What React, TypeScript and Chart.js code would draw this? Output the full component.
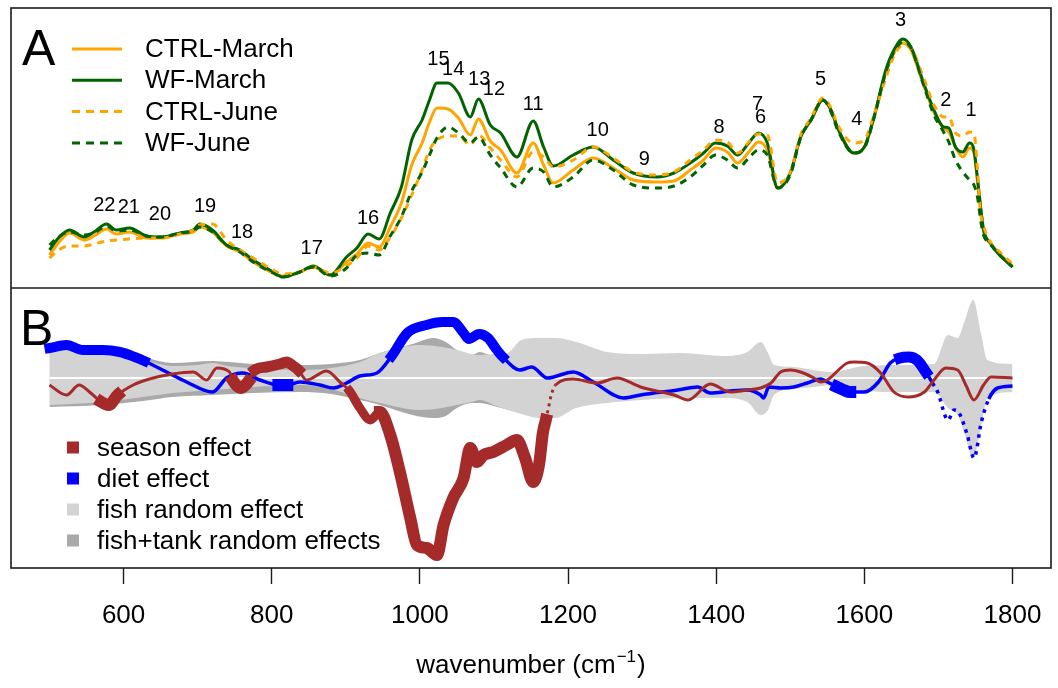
import React, { useEffect, useRef } from 'react';
import { Chart, registerables } from 'chart.js';

Chart.register(...registerables);

const FONT = "'Liberation Sans', Arial, Helvetica, sans-serif";
const ORANGE = '#FFA500';
const GREEN = '#006400';
const BROWN = '#A52A2A';
const BLUE = '#0000FF';
const LIGHT = '#D3D3D3';
const DARK = '#A9A9A9';

// ---------- x axis ----------
const X_MIN = 448;
const X_MAX = 1852;
const X_TICKS = [600, 800, 1000, 1200, 1400, 1600, 1800];

// ---------- Panel A: mean spectra ----------
const WN_A = [
  500, 512, 527, 547, 560, 577, 590, 608, 631, 650,
  676, 694, 703, 720, 739, 757, 775, 802, 815, 838,
  856, 879, 901, 915, 930, 945, 960, 975, 989, 1003,
  1013, 1023, 1038, 1052, 1068, 1079, 1095, 1109, 1131, 1153,
  1167, 1180, 1207, 1234, 1261, 1288, 1320, 1343, 1365, 1383,
  1399, 1415, 1429, 1444, 1457, 1469, 1483, 1500, 1514, 1528,
  1544, 1555, 1564, 1586, 1600, 1613, 1629, 1640, 1652, 1663,
  1680, 1694, 1707, 1714, 1723, 1733, 1742, 1748, 1753, 1757,
  1761, 1770, 1780, 1800,
];
const CTRL_MARCH = [
  0.33, 0.45, 0.55, 0.48, 0.52, 0.59, 0.54, 0.56, 0.50, 0.50,
  0.54, 0.56, 0.61, 0.56, 0.42, 0.36, 0.26, 0.15, 0.12, 0.16,
  0.21, 0.13, 0.26, 0.34, 0.45, 0.41, 0.61, 0.85, 1.23, 1.45,
  1.66, 1.80, 1.79, 1.70, 1.53, 1.69, 1.47, 1.38, 1.15, 1.45,
  1.23, 1.05, 1.18, 1.30, 1.20, 1.08, 1.06, 1.07, 1.18, 1.28,
  1.40, 1.36, 1.25, 1.36, 1.46, 1.38, 1.00, 1.15, 1.51, 1.68,
  1.88, 1.78, 1.60, 1.35, 1.41, 1.70, 2.15, 2.35, 2.45, 2.38,
  2.03, 1.76, 1.60, 1.56, 1.41, 1.31, 1.40, 1.35, 1.05, 0.80,
  0.57, 0.45, 0.36, 0.22,
];
const WF_MARCH = [
  0.38, 0.50, 0.58, 0.51, 0.56, 0.64, 0.58, 0.60, 0.52, 0.51,
  0.55, 0.58, 0.64, 0.58, 0.43, 0.38, 0.28, 0.16, 0.11, 0.16,
  0.22, 0.13, 0.31, 0.40, 0.54, 0.49, 0.75, 1.01, 1.48, 1.68,
  1.88, 2.05, 2.05, 1.95, 1.71, 1.89, 1.63, 1.55, 1.31, 1.67,
  1.41, 1.22, 1.33, 1.41, 1.28, 1.15, 1.11, 1.15, 1.25, 1.35,
  1.45, 1.42, 1.33, 1.45, 1.55, 1.45, 1.00, 1.15, 1.51, 1.68,
  1.88, 1.78, 1.60, 1.35, 1.41, 1.71, 2.18, 2.38, 2.49, 2.41,
  2.05, 1.78, 1.61, 1.60, 1.41, 1.36, 1.45, 1.38, 1.08, 0.81,
  0.58, 0.45, 0.35, 0.21,
];
const CTRL_JUNE = [
  0.30, 0.38, 0.42, 0.42, 0.44, 0.47, 0.48, 0.49, 0.50, 0.50,
  0.54, 0.58, 0.63, 0.64, 0.48, 0.38, 0.30, 0.18, 0.14, 0.16,
  0.21, 0.15, 0.22, 0.30, 0.42, 0.38, 0.51, 0.70, 0.93, 1.18,
  1.38, 1.48, 1.52, 1.52, 1.43, 1.53, 1.40, 1.28, 1.11, 1.36,
  1.31, 1.21, 1.28, 1.41, 1.30, 1.16, 1.13, 1.16, 1.28, 1.38,
  1.48, 1.46, 1.35, 1.46, 1.54, 1.53, 1.05, 1.16, 1.53, 1.70,
  1.90, 1.80, 1.63, 1.45, 1.48, 1.73, 2.10, 2.32, 2.43, 2.40,
  2.10, 1.83, 1.71, 1.71, 1.55, 1.52, 1.56, 1.55, 1.15, 0.75,
  0.62, 0.46, 0.38, 0.24,
];
const WF_JUNE = [
  0.43, 0.51, 0.56, 0.53, 0.55, 0.62, 0.57, 0.58, 0.52, 0.51,
  0.55, 0.57, 0.61, 0.56, 0.43, 0.36, 0.26, 0.15, 0.11, 0.16,
  0.21, 0.12, 0.20, 0.33, 0.35, 0.33, 0.52, 0.71, 0.97, 1.16,
  1.33, 1.50, 1.61, 1.55, 1.45, 1.51, 1.33, 1.20, 1.01, 1.20,
  1.16, 1.01, 1.11, 1.28, 1.18, 1.03, 1.00, 1.02, 1.11, 1.23,
  1.33, 1.28, 1.20, 1.30, 1.38, 1.33, 1.00, 1.13, 1.50, 1.68,
  1.88, 1.76, 1.58, 1.35, 1.40, 1.70, 2.16, 2.36, 2.46, 2.40,
  2.03, 1.73, 1.56, 1.46, 1.28, 1.16, 1.08, 1.03, 0.90, 0.68,
  0.53, 0.44, 0.35, 0.21,
];

// band numbers annotated on panel A
const PEAK_LABELS = ['22', '21', '20', '19', '18', '17', '16', '15', '14', '13', '12', '11', '10', '9', '8', '7', '6', '5', '4', '3', '2', '1'];
const PEAK_WN = [574, 607, 649, 710, 760, 854, 930, 1025, 1045, 1080, 1100, 1153, 1240, 1303, 1404, 1456, 1460, 1541, 1590, 1649, 1710, 1744];
const PEAK_Y = [0.83, 0.81, 0.74, 0.82, 0.56, 0.40, 0.70, 2.29, 2.19, 2.09, 1.99, 1.84, 1.58, 1.29, 1.61, 1.84, 1.71, 2.09, 1.69, 2.68, 1.88, 1.78];

// ---------- Panel B: effects ----------
const WN_SEASON = [
  500, 523, 540, 554, 570, 580, 592, 613, 635, 666,
  694, 712, 726, 743, 748, 758, 768, 777, 793, 811,
  820, 829, 836, 847, 874, 892, 905, 919, 933, 946,
  960, 973, 987, 996, 1009, 1023, 1032, 1045, 1059, 1068,
  1077, 1086, 1099, 1117, 1131, 1142, 1153, 1161, 1166, 1170,
  1173, 1177, 1183, 1207, 1239, 1266, 1298, 1343, 1362, 1392,
  1419, 1442, 1460, 1474, 1487, 1500, 1514, 1532, 1541, 1550,
  1577, 1586, 1604, 1622, 1640, 1659, 1681, 1694, 1710, 1726,
  1737, 1748, 1761, 1771, 1800,
];
const SEASON = [
  -0.07, -0.17, -0.07, -0.14, -0.24, -0.27, -0.17, -0.07, -0.01, 0.04,
  0.06, -0.02, 0.10, 0.06, -0.03, -0.10, -0.04, 0.08, 0.11, 0.14,
  0.16, 0.12, 0.08, -0.02, 0.07, -0.04, -0.13, -0.30, -0.42, -0.34,
  -0.57, -0.94, -1.40, -1.67, -1.70, -1.77, -1.47, -1.20, -1.00, -0.70,
  -0.84, -0.77, -0.74, -0.67, -0.62, -0.80, -1.04, -0.86, -0.55, -0.42,
  -0.32, -0.18, -0.07, -0.01, -0.05, 0.00, -0.09, -0.17, -0.22, -0.06,
  -0.14, -0.12, -0.10, -0.05, 0.06, 0.08, 0.06, 0.00, -0.04, -0.02,
  0.15, 0.16, 0.15, 0.05, -0.14, -0.19, -0.14, -0.02, 0.10, 0.08,
  -0.07, -0.22, -0.07, 0.01, 0.00,
];
// [from, to, width] significant stretches; [from, to] sparse (dotted) stretches
const SEASON_SIG = [[570, 592, 12], [748, 768, 12], [777, 836, 11], [905, 946, 9], [946, 1168, 12]];
const SEASON_DOT = [[1168.5, 1185]];

const WN_DIET = [
  500, 523, 545, 572, 595, 615, 628, 658, 685, 720,
  739, 761, 784, 809, 821, 838, 865, 883, 901, 919,
  942, 962, 983, 1009, 1030, 1045, 1059, 1066, 1080, 1092,
  1104, 1112, 1135, 1151, 1172, 1207, 1234, 1275, 1298, 1348,
  1375, 1392, 1419, 1442, 1460, 1464, 1471, 1487, 1505, 1523,
  1541, 1550, 1563, 1572, 1581, 1600, 1619, 1635, 1648, 1660,
  1671, 1683, 1692, 1699, 1713, 1721, 1728, 1739, 1748, 1758,
  1768, 1780, 1800,
];
const DIET = [
  0.30, 0.33, 0.28, 0.28, 0.26, 0.21, 0.17, 0.06, -0.04, -0.14,
  0.00, 0.05, -0.02, -0.07, -0.07, -0.04, -0.07, -0.10, -0.05, 0.02,
  0.05, 0.22, 0.45, 0.53, 0.56, 0.56, 0.45, 0.39, 0.44, 0.40,
  0.28, 0.21, 0.08, 0.11, 0.00, 0.06, -0.04, -0.20, -0.17, -0.12,
  -0.09, -0.15, -0.13, -0.12, -0.17, -0.20, -0.09, -0.10, -0.09, -0.05,
  -0.01, -0.04, -0.09, -0.12, -0.14, -0.14, -0.04, 0.15, 0.20, 0.21,
  0.18, 0.06, -0.05, -0.14, -0.42, -0.32, -0.35, -0.57, -0.80, -0.44,
  -0.21, -0.10, -0.08,
];
const DIET_SIG = [[500, 628, 10], [809, 821, 12], [962, 1112, 10], [1563, 1581, 12], [1648, 1683, 11]];
const DIET_DOT = [[1692, 1768]];

// fish random effect envelope
const WN_FISH = [
  500, 530, 570, 626, 666, 700, 720, 740, 775, 838,
  880, 919, 946, 1000, 1030, 1050, 1070, 1081, 1100, 1118,
  1137, 1160, 1182, 1211, 1253, 1300, 1352, 1410, 1442, 1460,
  1470, 1478, 1505, 1532, 1555, 1600, 1650, 1694, 1713, 1726,
  1735, 1747, 1758, 1766, 1800,
];
const FISH_UP = [
  0.33, 0.30, 0.26, 0.18, 0.12, 0.13, 0.15, 0.12, 0.10, 0.08,
  0.10, 0.16, 0.25, 0.33, 0.31, 0.28, 0.24, 0.23, 0.24, 0.25,
  0.38, 0.40, 0.40, 0.36, 0.26, 0.24, 0.25, 0.22, 0.26, 0.36,
  0.25, 0.13, 0.11, 0.08, 0.06, 0.12, 0.13, 0.14, 0.43, 0.40,
  0.56, 0.78, 0.43, 0.18, 0.14,
];
const FISH_LO = [
  -0.27, -0.26, -0.24, -0.19, -0.15, -0.13, -0.12, -0.11, -0.09, -0.07,
  -0.11, -0.20, -0.25, -0.32, -0.30, -0.27, -0.24, -0.22, -0.27, -0.32,
  -0.36, -0.40, -0.40, -0.30, -0.25, -0.22, -0.20, -0.20, -0.24, -0.37,
  -0.32, -0.17, -0.11, -0.09, -0.07, -0.13, -0.14, -0.14, -0.30, -0.37,
  -0.55, -0.80, -0.47, -0.20, -0.14,
];
// fish + tank random effects envelope
const WN_TANK = [500, 570, 626, 666, 720, 775, 838, 880, 919, 946, 990, 1018, 1035, 1050, 1070, 1081, 1095, 1120];
const TANK_UP = [0.33, 0.27, 0.21, 0.15, 0.17, 0.14, 0.13, 0.14, 0.18, 0.25, 0.34, 0.40, 0.36, 0.28, 0.23, 0.26, 0.23, 0.25];
const TANK_LO = [-0.29, -0.27, -0.23, -0.19, -0.17, -0.15, -0.14, -0.16, -0.22, -0.27, -0.37, -0.40, -0.38, -0.30, -0.25, -0.25, -0.27, -0.32];

const LEGEND_A = [
  { label: 'CTRL-March', color: ORANGE, dash: [] as number[] },
  { label: 'WF-March', color: GREEN, dash: [] as number[] },
  { label: 'CTRL-June', color: ORANGE, dash: [8, 6] },
  { label: 'WF-June', color: GREEN, dash: [8, 6] },
];
const LEGEND_B = [
  { label: 'season effect', color: BROWN },
  { label: 'diet effect', color: BLUE },
  { label: 'fish random effect', color: LIGHT },
  { label: 'fish+tank random effects', color: DARK },
];

function pts(xs: number[], ys: number[]) {
  const n = Math.min(xs.length, ys.length);
  const out: { x: number; y: number }[] = [];
  for (let i = 0; i < n; i++) out.push({ x: xs[i], y: ys[i] });
  return out;
}

function findRange(ranges: number[][], v: number) {
  return ranges.find((r) => v >= r[0] && v <= r[1]);
}

function effectSegment(sig: number[][], dots: number[][], dash: number[], thin: number) {
  const mid = (c: any) => (c.p0.parsed.x + c.p1.parsed.x) / 2;
  return {
    borderWidth: (c: any) => {
      const r = findRange(sig, mid(c));
      return r ? r[2] : thin;
    },
    borderCapStyle: (c: any) => (findRange(sig, mid(c)) ? 'square' : 'butt'),
    borderJoinStyle: () => 'round',
    borderDash: (c: any) => (findRange(dots, mid(c)) ? dash : []),
    borderDashOffset: () => 0,
  };
}

const decorations = {
  id: 'decorations',
  afterDraw(chart: any) {
    const { ctx, chartArea } = chart;
    const x = chart.scales.x;
    const yA = chart.scales.yA;
    ctx.save();

    // panel boxes
    ctx.strokeStyle = '#1a1a1a';
    ctx.lineWidth = 1.6;
    ctx.setLineDash([]);
    ctx.strokeRect(chartArea.left, chartArea.top, chartArea.right - chartArea.left, chartArea.bottom - chartArea.top);
    ctx.beginPath();
    ctx.moveTo(chartArea.left, yA.bottom);
    ctx.lineTo(chartArea.right, yA.bottom);
    ctx.stroke();

    // panel letters
    ctx.fillStyle = '#000';
    ctx.textAlign = 'left';
    ctx.textBaseline = 'alphabetic';
    ctx.font = `50px ${FONT}`;
    ctx.fillText('A', chartArea.left + 11, chartArea.top + 57);
    ctx.fillText('B', chartArea.left + 9, yA.bottom + 57);

    // peak numbers
    ctx.font = `20px ${FONT}`;
    ctx.textAlign = 'center';
    ctx.textBaseline = 'middle';
    PEAK_LABELS.forEach((t, i) => {
      ctx.fillText(t, x.getPixelForValue(PEAK_WN[i]), yA.getPixelForValue(PEAK_Y[i]));
    });

    // legend A
    ctx.font = `26px ${FONT}`;
    ctx.textAlign = 'left';
    LEGEND_A.forEach((item, i) => {
      const yy = chartArea.top + 41 + i * 31.3;
      ctx.strokeStyle = item.color;
      ctx.lineWidth = 3;
      ctx.setLineDash(item.dash);
      ctx.beginPath();
      ctx.moveTo(chartArea.left + 61, yy);
      ctx.lineTo(chartArea.left + 111, yy);
      ctx.stroke();
      ctx.setLineDash([]);
      ctx.fillStyle = '#000';
      ctx.fillText(item.label, chartArea.left + 134, yy + 1);
    });

    // legend B
    LEGEND_B.forEach((item, i) => {
      const yy = yA.bottom + 159.5 + i * 31;
      ctx.fillStyle = item.color;
      ctx.fillRect(chartArea.left + 56, yy - 6, 12, 12);
      ctx.fillStyle = '#000';
      ctx.fillText(item.label, chartArea.left + 86, yy + 1);
    });

    // x axis title
    const cx = (chartArea.left + chartArea.right) / 2;
    const base = 673;
    ctx.textBaseline = 'alphabetic';
    ctx.font = `26px ${FONT}`;
    const t1 = 'wavenumber (cm';
    const t3 = ')';
    const w1 = ctx.measureText(t1).width;
    const w3 = ctx.measureText(t3).width;
    ctx.font = `17px ${FONT}`;
    const t2 = '\u22121';
    const w2 = ctx.measureText(t2).width;
    let sx = cx - (w1 + w2 + w3 + 2) / 2;
    ctx.font = `26px ${FONT}`;
    ctx.fillText(t1, sx, base);
    sx += w1 + 1;
    ctx.font = `17px ${FONT}`;
    ctx.fillText(t2, sx, base - 11);
    sx += w2 + 1;
    ctx.font = `26px ${FONT}`;
    ctx.fillText(t3, sx, base);
    ctx.restore();
  },
};

export default function App() {
  const ref = useRef<HTMLCanvasElement | null>(null);

  useEffect(() => {
    const canvas = ref.current;
    if (!canvas) return;

    const lineA = (data: number[], color: string, dashed: boolean) => ({
      type: 'line',
      data: pts(WN_A, data),
      yAxisID: 'yA',
      borderColor: color,
      borderWidth: 3,
      borderDash: dashed ? [7, 6] : [],
      pointRadius: 0,
      pointHoverRadius: 0,
      cubicInterpolationMode: 'monotone',
      fill: false,
    });

    const band = (xs: number[], ys: number[], color: string, fill: any) => ({
      type: 'line',
      data: pts(xs, ys),
      yAxisID: 'yB',
      borderWidth: 0,
      borderColor: 'rgba(0,0,0,0)',
      backgroundColor: color,
      pointRadius: 0,
      pointHoverRadius: 0,
      cubicInterpolationMode: 'monotone',
      fill,
    });

    const effect = (xs: number[], ys: number[], color: string, sig: number[][], dots: number[][], dash: number[], thin: number) => ({
      type: 'line',
      data: pts(xs, ys),
      yAxisID: 'yB',
      borderColor: color,
      borderWidth: thin,
      borderCapStyle: 'butt',
      borderJoinStyle: 'round',
      pointRadius: 0,
      pointHoverRadius: 0,
      cubicInterpolationMode: 'monotone',
      fill: false,
      segment: effectSegment(sig, dots, dash, thin),
    });

    // first dataset is drawn on top
    const datasets: any[] = [
      lineA(WF_JUNE, GREEN, true),
      lineA(CTRL_JUNE, ORANGE, true),
      lineA(WF_MARCH, GREEN, false),
      lineA(CTRL_MARCH, ORANGE, false),
      effect(WN_SEASON, SEASON, BROWN, SEASON_SIG, SEASON_DOT, [3, 4], 3),
      effect(WN_DIET, DIET, BLUE, DIET_SIG, DIET_DOT, [3.5, 5], 3.5),
      {
        type: 'line',
        data: [{ x: 500, y: 0 }, { x: 1800, y: 0 }],
        yAxisID: 'yB',
        borderColor: '#ffffff',
        borderWidth: 2,
        pointRadius: 0,
        fill: false,
      },
      band(WN_FISH, FISH_UP, LIGHT, '+1'),
      band(WN_FISH, FISH_LO, LIGHT, false),
      band(WN_TANK, TANK_UP, DARK, '+1'),
      band(WN_TANK, TANK_LO, DARK, false),
    ];

    const hiddenY = (min: number, max: number, weight: number) => ({
      type: 'linear',
      position: 'left',
      stack: 'panels',
      stackWeight: 1,
      weight,
      min,
      max,
      ticks: { display: false },
      grid: { display: false },
      border: { display: false },
      afterFit: (s: any) => {
        s.width = 0;
      },
    });

    const chart = new Chart(canvas, {
      type: 'line',
      data: { datasets },
      options: {
        responsive: false,
        devicePixelRatio: 1,
        animation: false,
        events: [],
        layout: { padding: { left: 11, right: 7, top: 8, bottom: 0 } },
        plugins: {
          legend: { display: false },
          tooltip: { enabled: false },
        },
        scales: {
          x: {
            type: 'linear',
            min: X_MIN,
            max: X_MAX,
            afterBuildTicks: (s: any) => {
              s.ticks = X_TICKS.map((v) => ({ value: v }));
            },
            afterFit: (s: any) => {
              s.height = 120;
            },
            ticks: {
              color: '#000',
              font: { family: FONT, size: 26 },
              padding: 16,
              maxRotation: 0,
              autoSkip: false,
              callback: (v: any) => String(v),
            },
            grid: {
              display: true,
              drawOnChartArea: false,
              drawTicks: true,
              tickLength: 16,
              tickColor: '#1a1a1a',
              tickWidth: 1.4,
            },
            border: { display: false },
          },
          yB: hiddenY(-1.9, 0.9, 1),
          yA: hiddenY(0, 2.8, 2),
        } as any,
      },
      plugins: [decorations],
    } as any);

    return () => {
      chart.destroy();
    };
  }, []);

  return (
    <div style={{ position: 'fixed', left: 0, top: 0, width: 1058, height: 688, background: '#fff' }}>
      <canvas ref={ref} width={1058} height={688} style={{ display: 'block' }} />
    </div>
  );
}
